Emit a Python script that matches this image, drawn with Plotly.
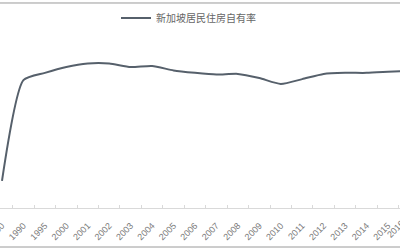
import plotly.graph_objects as go

years = ["1980", "1990", "1995", "2000", "2001", "2002", "2003", "2004", "2005", "2006",
         "2007", "2008", "2009", "2010", "2011", "2012", "2013", "2014", "2015", "2016"]
ownership = [59.3, 88.3, 90.4, 92.1, 93.1, 93.1, 92.1, 92.4, 91.1, 90.4,
             89.9, 90.1, 88.9, 87.2, 88.6, 90.1, 90.4, 90.4, 90.7, 91.0]
series_name = "新加坡居民住房自有率"

x_range = [-0.093, 18.56]

fig = go.Figure()
fig.add_trace(go.Scatter(
    x=years, y=ownership, mode="lines", name=series_name,
    line=dict(color="#56606b", width=2, shape="spline", smoothing=0.6),
))

tick_font = dict(family="Liberation Sans, Arial", size=9, color="#7a7a7a")

# paper position of the last category (its tick label lies past the cropped right edge)
last_idx = len(years) - 1
last_paper_x = (last_idx - x_range[0]) / (x_range[1] - x_range[0])

fig.update_layout(
    width=400, height=250,
    margin=dict(l=0, r=0, t=0, b=42, autoexpand=False),
    paper_bgcolor="white", plot_bgcolor="white",
    showlegend=True,
    legend=dict(orientation="h", x=0.29, xanchor="left", y=0.913, yanchor="middle",
                font=dict(family="Noto Sans CJK SC", size=10, color="#666666"),
                bgcolor="rgba(0,0,0,0)"),
    xaxis=dict(type="category", range=x_range, showgrid=False, automargin=False,
               showline=True, linecolor="#d9d9d9", linewidth=1,
               ticks="inside", tickson="boundaries", ticklen=3, tickcolor="#d9d9d9",
               ticklabelstandoff=8,
               tickangle=-45, tickfont=tick_font),
    yaxis=dict(range=[51.46, 111.4], visible=False, showgrid=False, automargin=False),
    shapes=[
        dict(type="line", xref="paper", yref="paper", x0=0, x1=1, y0=0.9856, y1=0.9856,
             line=dict(color="#9a9a9a", width=1)),
        dict(type="line", xref="paper", yref="paper", x0=0, x1=1, y0=-0.1875, y1=-0.1875,
             line=dict(color="#9a9a9a", width=1)),
    ],
    annotations=[
        dict(x=last_paper_x, xref="paper", y=0, yref="paper", text=years[-1], showarrow=False,
             textangle=-45, xanchor="right", yanchor="top", yshift=-8,
             font=tick_font),
    ],
)

fig.write_html("out.html")
